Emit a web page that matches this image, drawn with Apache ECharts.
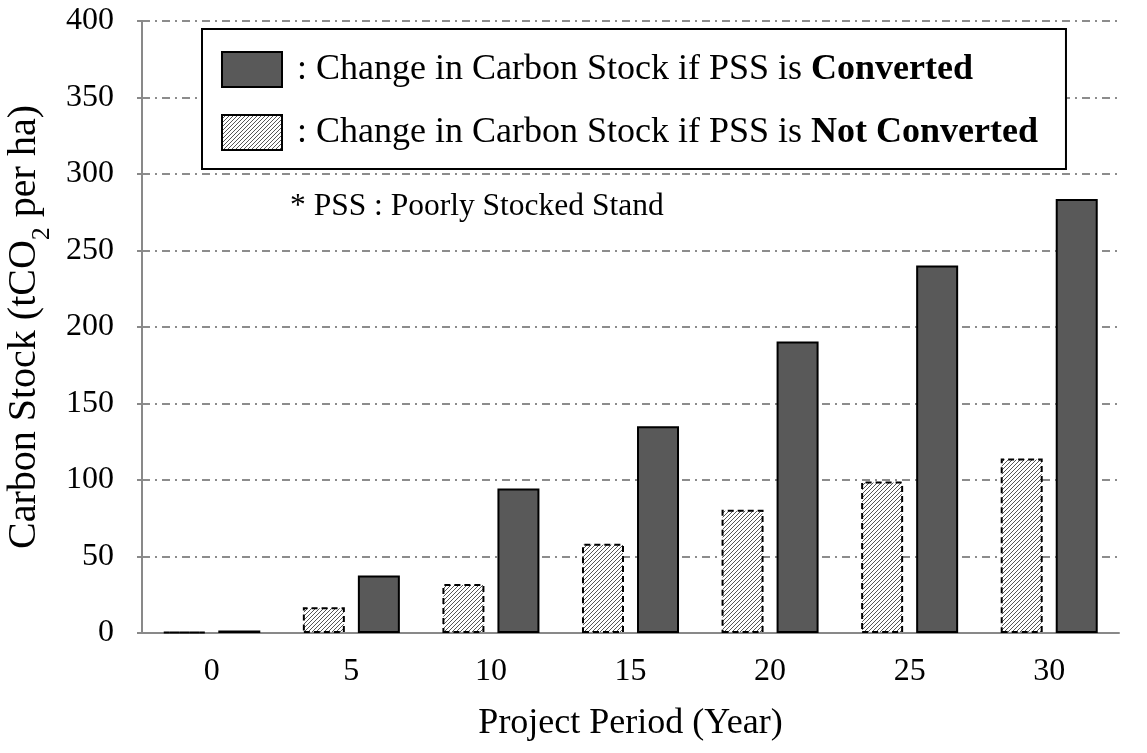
<!DOCTYPE html>
<html>
<head>
<meta charset="utf-8">
<script src="https://cdn.jsdelivr.net/npm/echarts@6/dist/echarts.min.js"></script>
<style>
html,body{margin:0;padding:0;background:#fff;}
#chart{width:1147px;height:753px;}
</style>
</head>
<body>
<div id="chart"></div>
<script>
const categories = ['0', '5', '10', '15', '20', '25', '30'];
const notConverted = [0.6, 16.8, 32, 58.4, 80.5, 99, 114];
const converted = [1.7, 37.6, 94.5, 135.2, 190.5, 240.2, 283.6];
const yTicks = { min: 0, max: 400, interval: 50 };
const nameConverted = 'Converted';
const nameNotConverted = 'Not Converted';

const FONT = '"Liberation Serif", "Times New Roman", serif';

// hatch pattern
const pc = document.createElement('canvas');
pc.width = 4; pc.height = 4;
const ctx = pc.getContext('2d');
ctx.fillStyle = '#fff';
ctx.fillRect(0, 0, 4, 4);
ctx.strokeStyle = '#444';
ctx.lineWidth = 0.9;
ctx.beginPath();
ctx.moveTo(0, 4); ctx.lineTo(4, 0);
ctx.moveTo(-1, 1); ctx.lineTo(1, -1);
ctx.moveTo(3, 5); ctx.lineTo(5, 3);
ctx.stroke();
const hatch = { image: pc, repeat: 'repeat' };

const chart = echarts.init(document.getElementById('chart'));
const option = {
  backgroundColor: '#fff',
  animation: false,
  textStyle: { fontFamily: FONT },
  grid: { left: 142, right: 28, top: 21, bottom: 120, containLabel: false, outerBoundsMode: 'none' },
  legend: {
    orient: 'vertical',
    left: 202,
    top: 29,
    data: [nameConverted, nameNotConverted],
    icon: 'rect',
    itemWidth: 60,
    itemHeight: 35,
    itemGap: 26,
    padding: [22, 28, 18, 19],
    borderColor: '#000',
    borderWidth: 2,
    backgroundColor: '#fff',
    selectedMode: false,
    formatter: function (n) { return '{a|: Change in Carbon Stock if PSS is }{b|' + n + '}'; },
    textStyle: {
      fontFamily: FONT,
      rich: {
        a: { fontFamily: FONT, fontSize: 36, color: '#000', lineHeight: 35, padding: [0, 0, 0, 10] },
        b: { fontFamily: FONT, fontSize: 36, fontWeight: 'bold', color: '#000', lineHeight: 35 }
      }
    }
  },
  graphic: [{
    type: 'text',
    left: 290,
    top: 191,
    style: { text: '* PSS : Poorly Stocked Stand', font: '31.5px ' + FONT, fill: '#000' }
  }],
  xAxis: {
    type: 'category',
    data: categories,
    name: 'Project Period (Year)',
    nameLocation: 'middle',
    nameGap: 73,
    nameTextStyle: { fontFamily: FONT, fontSize: 36, color: '#000' },
    axisLine: { lineStyle: { color: '#898989', width: 2 } },
    axisTick: { show: false },
    axisLabel: { fontFamily: FONT, fontSize: 32, color: '#000', margin: 23 }
  },
  yAxis: {
    type: 'value',
    min: yTicks.min,
    max: yTicks.max,
    interval: yTicks.interval,
    name: '{a|Carbon Stock (tCO}{s|2}{a| per ha)}',
    nameLocation: 'middle',
    nameGap: 94,
    nameRotate: 90,
    nameTextStyle: {
      rich: {
        a: { fontFamily: FONT, fontSize: 40, color: '#000', lineHeight: 44 },
        s: { fontFamily: FONT, fontSize: 26, color: '#000', lineHeight: 44, verticalAlign: 'bottom', padding: [0, 0, -9, 0] }
      }
    },
    axisLine: { show: true, lineStyle: { color: '#898989', width: 2 } },
    axisTick: { show: true, length: 5, lineStyle: { color: '#898989', width: 2 } },
    axisLabel: { fontFamily: FONT, fontSize: 32, color: '#000', margin: 28 },
    splitLine: { show: true, lineStyle: { color: '#8c8c8c', width: 2, type: [8, 5, 2, 5] } }
  },
  series: [
    {
      name: nameNotConverted,
      type: 'bar',
      data: notConverted,
      barWidth: 42,
      barGap: '31%',
      itemStyle: { color: hatch, borderColor: '#000', borderWidth: 2, borderType: [6, 4] }
    },
    {
      name: nameConverted,
      type: 'bar',
      data: converted,
      barWidth: 42,
      barGap: '31%',
      itemStyle: { color: '#595959', borderColor: '#000', borderWidth: 2 }
    }
  ]
};
chart.setOption(option);
</script>
</body>
</html>
